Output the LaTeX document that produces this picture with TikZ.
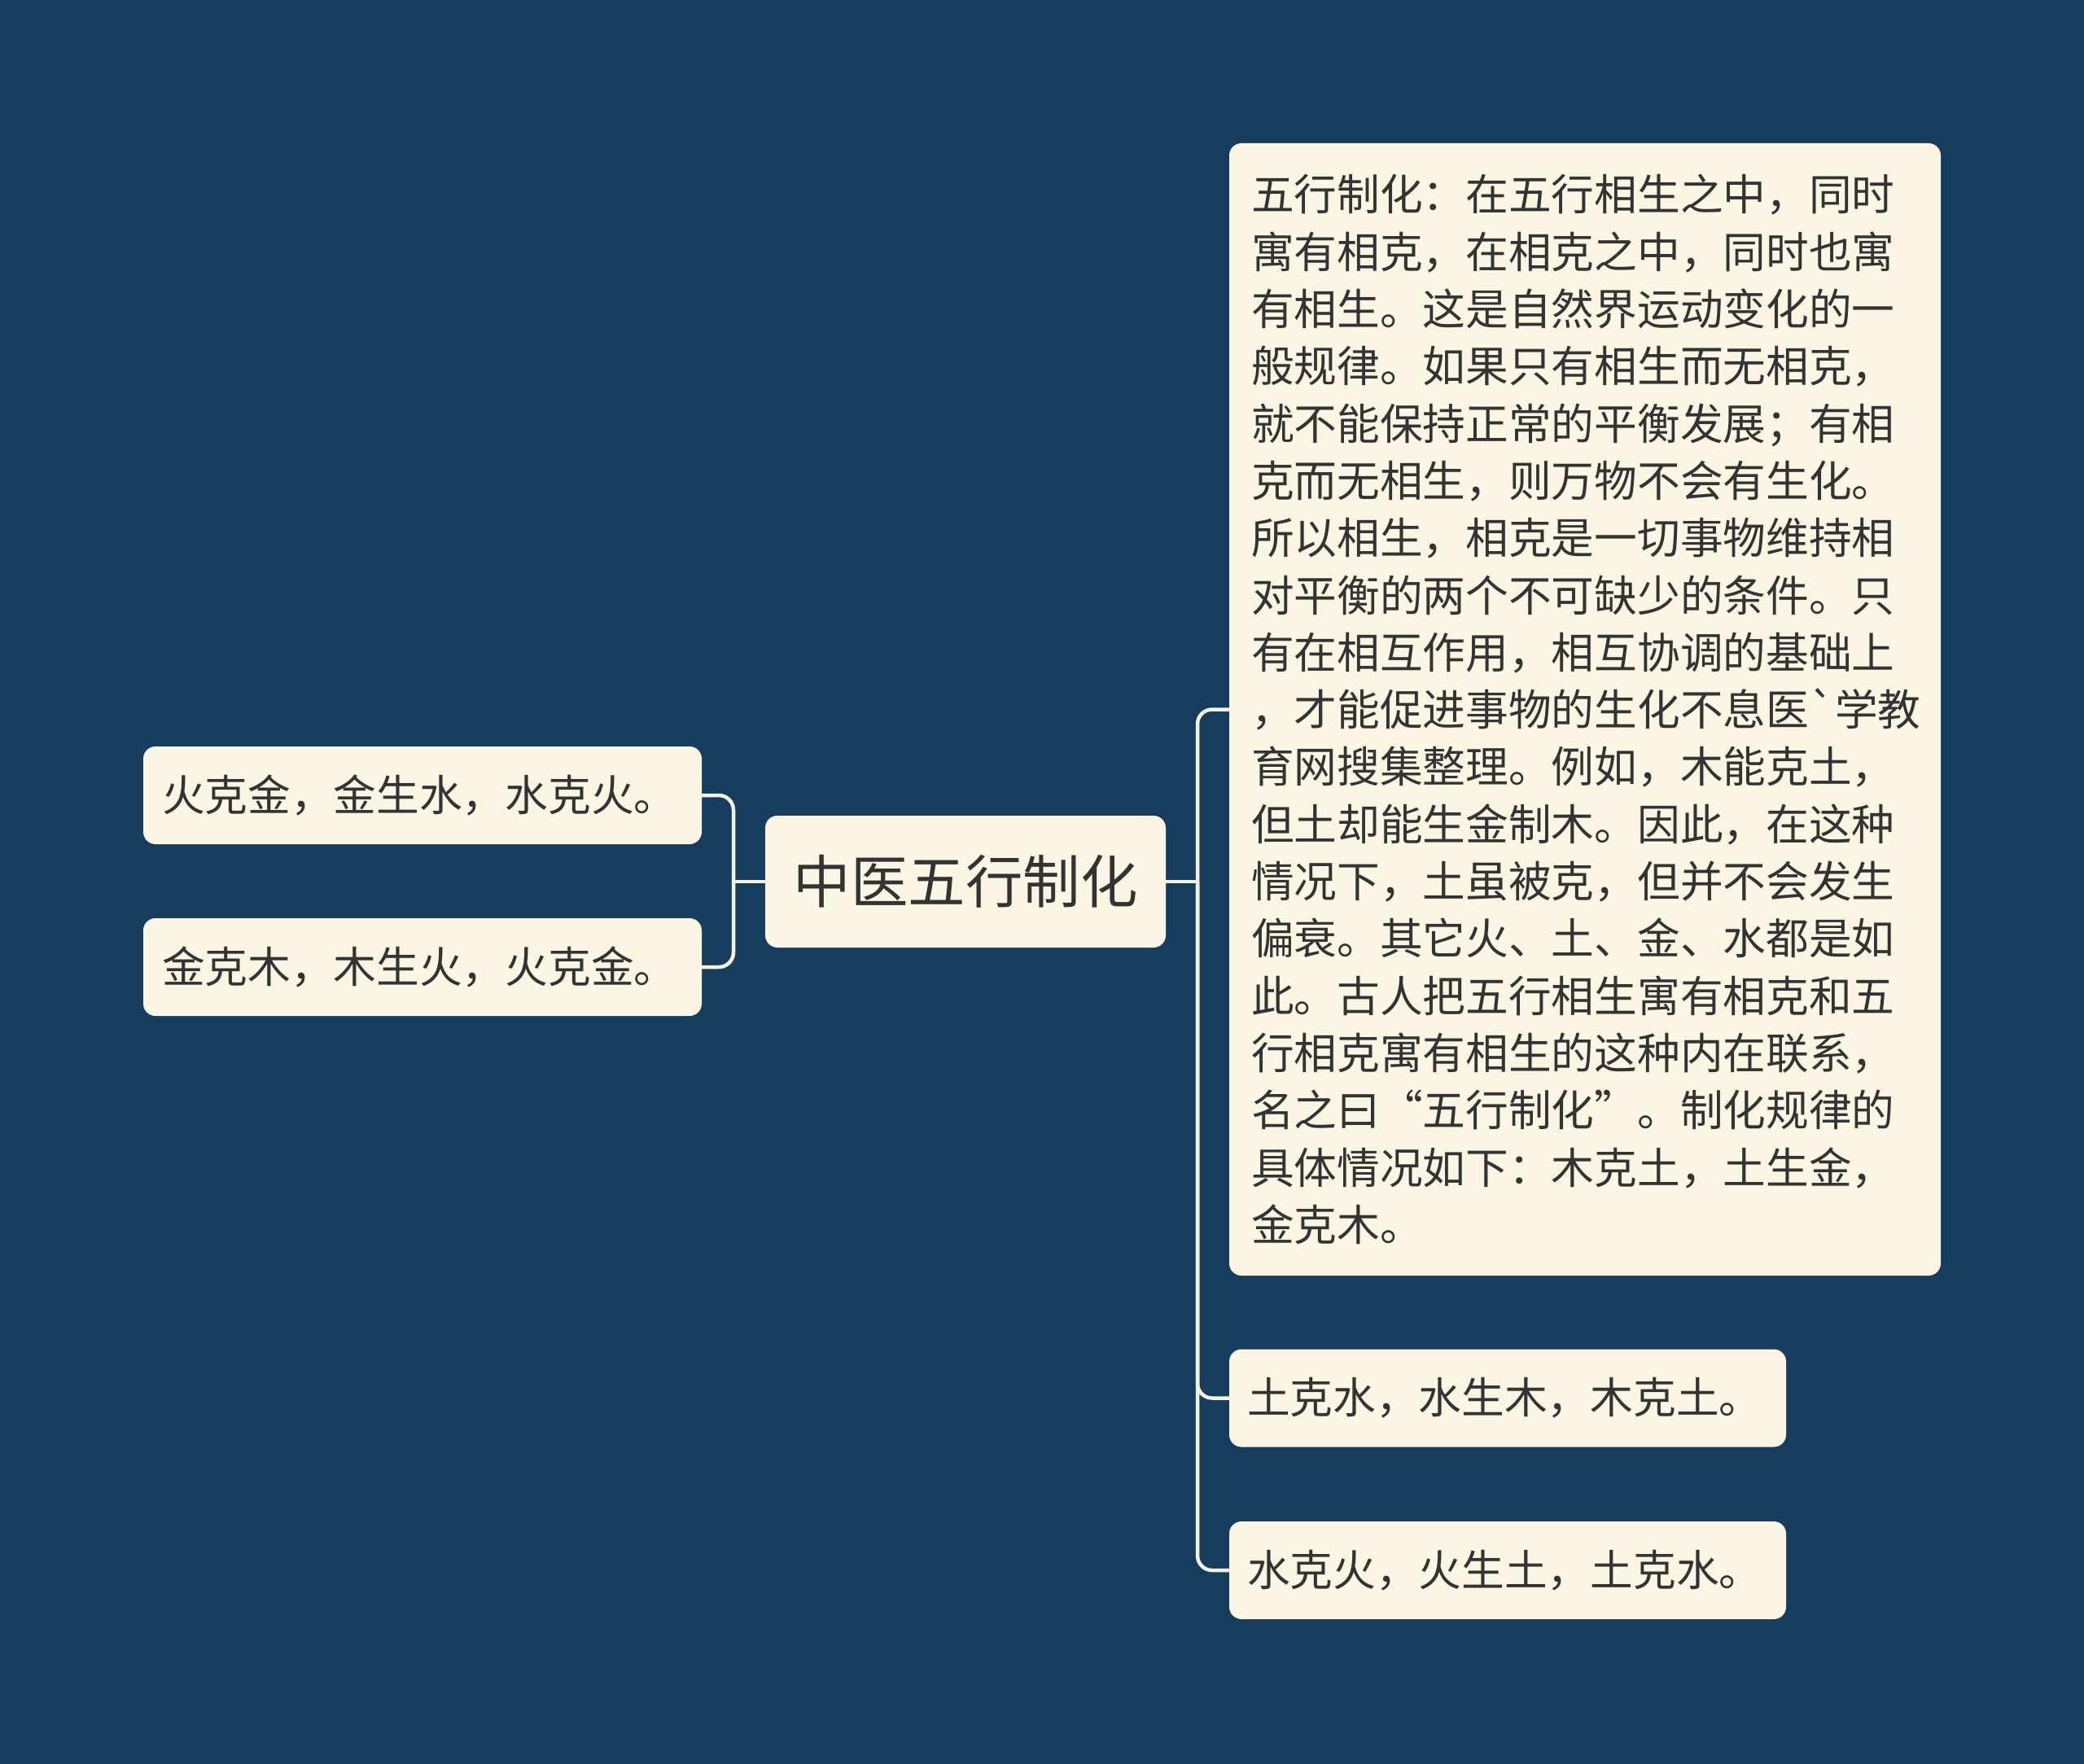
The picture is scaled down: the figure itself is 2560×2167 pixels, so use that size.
\documentclass[tikz,border=0pt]{standalone}
\usepackage{fontspec}
\setmainfont{Noto Sans CJK SC}[Ligatures=TeXOff]
\definecolor{bgc}{HTML}{173D5E}
\definecolor{boxc}{HTML}{FAF6E3}
\definecolor{txtc}{HTML}{333333}
\definecolor{linec}{HTML}{F6F1DD}
\tikzset{
  box/.style={fill=boxc, rounded corners=15pt, text=txtc, inner xsep=26pt, inner ysep=0pt, align=left},
  smallbox/.style={box, font=\fontsize{52.7}{70.3}\selectfont, text width=640pt, minimum height=120pt},
  conn/.style={draw=linec, line width=4.5pt, rounded corners=18pt}
}
\begin{document}
\begin{tikzpicture}[x=1pt,y=-1pt]
\fill[bgc] (0,0) rectangle (2560,2167);
\useasboundingbox (0,0) rectangle (2560,2167);

\node[box, font=\fontsize{70.5}{84}\selectfont, minimum width=492pt, minimum height=162pt, align=center, inner xsep=0pt] (c) at (1186,1083) {中医五行制化};

\node[smallbox, inner xsep=23pt] (l1) at (519,977) {火克金，金生水，水克火。};
\node[smallbox, inner xsep=23pt] (l2) at (519,1188) {金克木，木生火，火克金。};

\node[box, font=\fontsize{52.7}{70.3}\selectfont, text width=820pt, minimum height=1391pt, inner xsep=27pt] (big) at (1947,871.5) {五行制化：在五行相生之中，同时\\寓有相克，在相克之中，同时也寓\\有相生。这是自然界运动变化的一\\般规律。如果只有相生而无相克，\\就不能保持正常的平衡发展；有相\\克而无相生，则万物不会有生化。\\所以相生，相克是一切事物维持相\\对平衡的两个不可缺少的条件。只\\有在相互作用，相互协调的基础上\\，才能促进事物的生化不息医`学教\\育网搜集整理。例如，木能克土，\\但土却能生金制木。因此，在这种\\情况下，土虽被克，但并不会发生\\偏衰。其它火、土、金、水都是如\\此。古人把五行相生寓有相克和五\\行相克寓有相生的这种内在联系，\\名之曰“五行制化”。制化规律的\\具体情况如下：木克土，土生金，\\金克木。};

\node[smallbox, inner xsep=22pt] (r2) at (1852,1717.5) {土克水，水生木，木克土。};
\node[smallbox, inner xsep=22pt] (r3) at (1852,1929) {水克火，火生土，土克水。};

\coordinate (lj) at (901,1083);
\coordinate (rj) at (1471,1083);
\draw[conn] (c.west) -- (lj);
\draw[conn] (lj) |- (l1.east);
\draw[conn] (lj) |- (l2.east);
\draw[conn] (c.east) -- (rj);
\draw[conn] (rj) |- (big.west);
\draw[conn] (rj) |- (r2.west);
\draw[conn] (rj) |- (r3.west);
\end{tikzpicture}
\end{document}
